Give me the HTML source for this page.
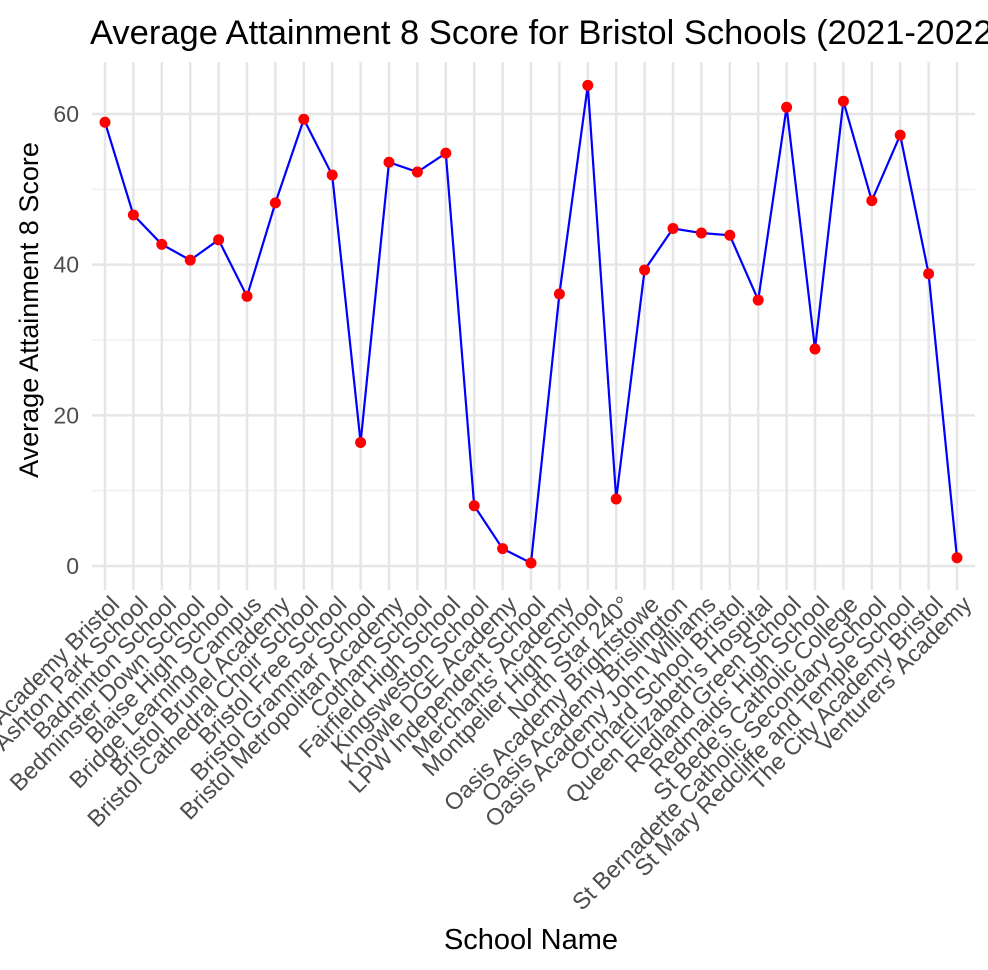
<!DOCTYPE html>
<html><head><meta charset="utf-8"><style>
body{margin:0;background:#fff;overflow:hidden;}
svg{display:block;font-family:"Liberation Sans",Arial,sans-serif;}
</style></head><body>
<svg id="chart" width="988" height="970">
<text x="90" y="44" font-size="34.5" fill="#000">Average Attainment 8 Score for Bristol Schools (2021-2022)</text>
<g id="grid"></g>
<g id="yticks"></g>
<g id="xticks"></g>
<g id="series"></g>
<text transform="translate(38,310) rotate(-90)" text-anchor="middle" font-size="27" fill="#000">Average Attainment 8 Score</text>
<text x="531" y="949" text-anchor="middle" font-size="29" fill="#000">School Name</text>
</svg>
<script>
const schools=["Ark Academy Bristol","Ashton Park School","Badminton School","Bedminster Down School","Blaise High School","Bridge Learning Campus","Bristol Brunel Academy","Bristol Cathedral Choir School","Bristol Free School","Bristol Grammar School","Bristol Metropolitan Academy","Cotham School","Fairfield High School","Kingsweston School","Knowle DGE Academy","LPW Independent School","Merchants' Academy","Montpelier High School","North Star 240°","Oasis Academy Brightstowe","Oasis Academy Brislington","Oasis Academy John Williams","Orchard School Bristol","Queen Elizabeth's Hospital","Redland Green School","Redmaids' High School","St Bede's Catholic College","St Bernadette Catholic Secondary School","St Mary Redcliffe and Temple School","The City Academy Bristol","Venturers' Academy"];
const scores=[58.9,46.6,42.7,40.6,43.3,35.8,48.2,59.3,51.9,16.4,53.6,52.3,54.8,8.0,2.3,0.4,36.1,63.8,8.9,39.3,44.8,44.2,43.9,35.3,60.9,28.8,61.7,48.5,57.2,38.8,1.1];
const yTicks=[0,20,40,60];
const yMinor=[10,30,50];
const NS="http://www.w3.org/2000/svg";
const pLeft=92,pRight=975,pTop=62,pBottom=590;
const xs=i=>105+i*(957-105)/(schools.length-1);
const ys=v=>566-v*(566-114)/60;
function mk(tag,attrs,parent){const e=document.createElementNS(NS,tag);for(const k in attrs)e.setAttribute(k,attrs[k]);parent.appendChild(e);return e;}
const grid=document.getElementById('grid'),yt=document.getElementById('yticks'),xt=document.getElementById('xticks'),ser=document.getElementById('series');
yMinor.forEach(v=>{const l=mk('line',{x1:pLeft,x2:pRight,y1:ys(v),y2:ys(v),stroke:'#f0f0f0','stroke-width':1.5},grid);

});
yTicks.forEach(v=>{const l=mk('line',{x1:pLeft,x2:pRight,y1:ys(v),y2:ys(v),stroke:'#e6e6e6','stroke-width':2.5},grid);


const t=mk('text',{x:79,y:ys(v)+8,'text-anchor':'end','font-size':23,fill:'#4d4d4d'},yt);t.textContent=v;

});
schools.forEach((s,i)=>{const l=mk('line',{x1:xs(i),x2:xs(i),y1:pTop,y2:pBottom,stroke:'#e6e6e6','stroke-width':2.5},grid);


const t=mk('text',{transform:`translate(${xs(i)+4},${594}) rotate(-45)`,'text-anchor':'end','dominant-baseline':'hanging','font-size':23.5,fill:'#4d4d4d'},xt);t.textContent=s;

});
const p=mk('polyline',{points:scores.map((v,i)=>xs(i)+','+ys(v)).join(' '),fill:'none',stroke:'#0000ff','stroke-width':2.2},ser);


scores.forEach((v,i)=>{const c=mk('circle',{cx:xs(i),cy:ys(v),r:5.5,fill:'#ff0000'},ser);

});
</script>
</body></html>
